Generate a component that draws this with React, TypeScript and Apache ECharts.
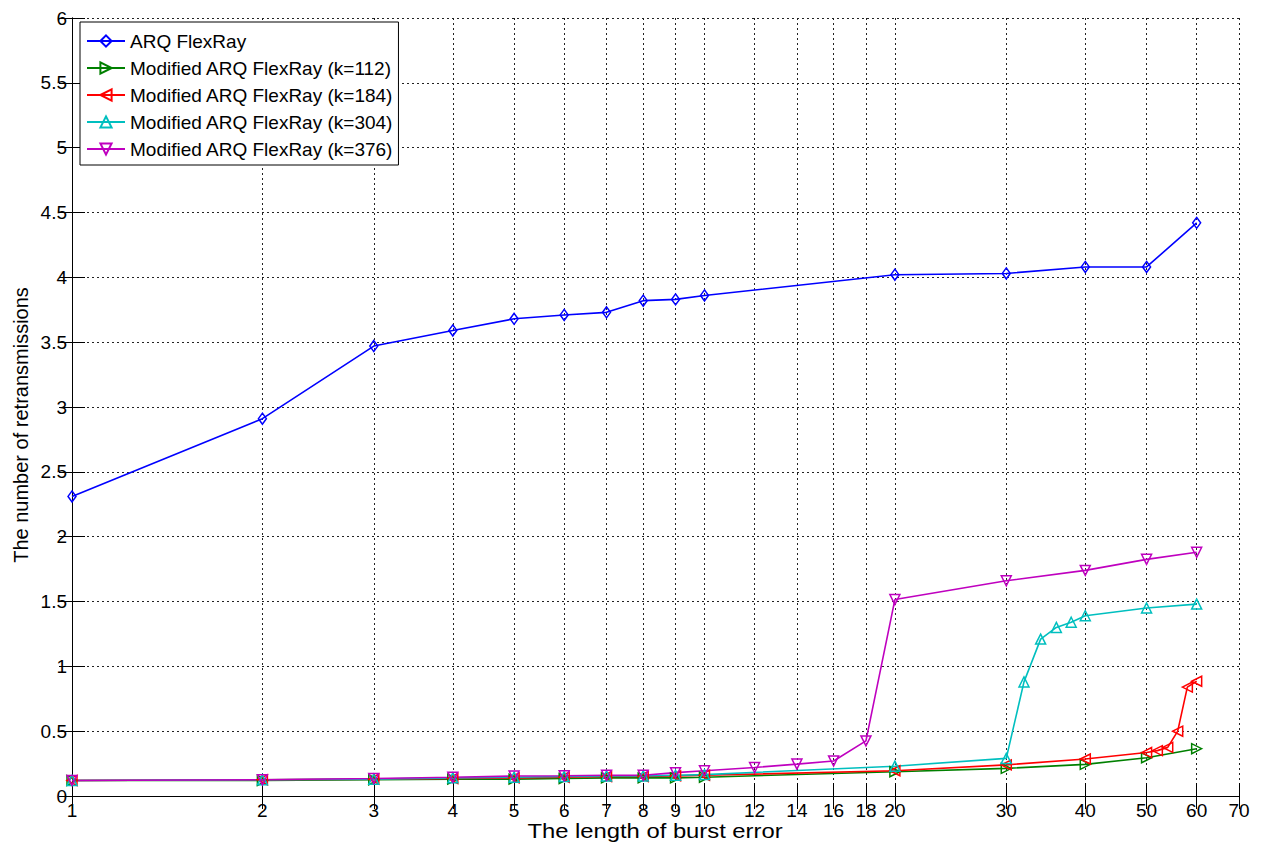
import React, { useEffect, useRef } from "react";
import * as echarts from "echarts";

const xTickValues = [1, 2, 3, 4, 5, 6, 7, 8, 9, 10, 12, 14, 16, 18, 20, 30, 40, 50, 60, 70];

const arqX = [1, 2, 3, 4, 5, 6, 7, 8, 9, 10, 20, 30, 40, 50, 60];
const arqY = [2.31, 2.91, 3.47, 3.59, 3.68, 3.71, 3.73, 3.82, 3.83, 3.86, 4.02, 4.03, 4.08, 4.08, 4.42];

const k112X = [1, 2, 3, 4, 5, 6, 7, 8, 9, 10, 20, 30, 40, 50, 60];
const k112Y = [0.12, 0.12, 0.125, 0.13, 0.13, 0.135, 0.14, 0.14, 0.14, 0.145, 0.187, 0.213, 0.244, 0.295, 0.365];

const k184X = [1, 2, 3, 4, 5, 6, 7, 8, 9, 10, 20, 30, 40, 50, 52, 54, 56, 58, 60];
const k184Y = [0.12, 0.125, 0.13, 0.135, 0.14, 0.145, 0.15, 0.15, 0.155, 0.16, 0.195, 0.24, 0.285, 0.335, 0.35, 0.375, 0.5, 0.84, 0.885];

const k304X = [1, 2, 3, 4, 5, 6, 7, 8, 9, 10, 20, 30, 32, 34, 36, 38, 40, 50, 60];
const k304Y = [0.12, 0.125, 0.13, 0.14, 0.145, 0.15, 0.155, 0.155, 0.16, 0.165, 0.23, 0.29, 0.88, 1.21, 1.3, 1.34, 1.39, 1.45, 1.48];

const k376X = [1, 2, 3, 4, 5, 6, 7, 8, 9, 10, 12, 14, 16, 18, 20, 30, 40, 50, 60];
const k376Y = [0.12, 0.125, 0.135, 0.145, 0.154, 0.156, 0.16, 0.16, 0.18, 0.195, 0.22, 0.246, 0.27, 0.425, 1.515, 1.66, 1.74, 1.825, 1.88];

const seriesNames = [
  "ARQ FlexRay",
  "Modified ARQ FlexRay (k=112)",
  "Modified ARQ FlexRay (k=184)",
  "Modified ARQ FlexRay (k=304)",
  "Modified ARQ FlexRay (k=376)",
];

const FONT = "Liberation Sans, Arial, sans-serif";

export default function App() {
  const ref = useRef<HTMLDivElement>(null);
  useEffect(() => {
    document.body.style.margin = "0";
    const chart = echarts.init(ref.current!, null, { renderer: "svg" });
    const toData = (xs: number[], ys: number[]) => xs.map((x, i) => [Math.log10(x), ys[i]]);
    const logTicks = xTickValues.map((v) => Math.log10(v));
    const xMax = Math.log10(70);
    const gridLine = { show: true, lineStyle: { color: "#222", type: [2, 3], width: 1 } };
    const tick = { show: true, inside: true, length: 13, lineStyle: { color: "#000" } };

    const mk = (name: string, xs: number[], ys: number[], color: string, symbol: string, rot: number, size: number | number[]) => ({
      name,
      type: "line",
      data: toData(xs, ys),
      symbol,
      symbolSize: size,
      symbolRotate: rot,
      color,
      lineStyle: { color, width: 1.6 },
      itemStyle: { color: "rgba(255,255,255,0)", borderColor: color, borderWidth: 1.5 },
      emphasis: { disabled: true },
      z: 3,
    });

    chart.setOption({
      animation: false,
      backgroundColor: "#fff",
      grid: { left: 72, right: 24, top: 18, bottom: 50, show: false },
      legend: {
        orient: "vertical",
        left: 80,
        top: 22,
        padding: [9, 5, 6, 6],
        itemWidth: 38,
        itemHeight: 14,
        itemGap: 7,
        backgroundColor: "#fff",
        borderColor: "#000",
        borderWidth: 1,
        textStyle: { fontFamily: FONT, fontSize: 19, lineHeight: 20, color: "#000" },
        data: seriesNames,
      },
      xAxis: [
        {
          type: "value",
          min: 0,
          max: xMax,
          position: "bottom",
          axisLine: { show: true, lineStyle: { color: "#000", width: 1 } },
          axisTick: { ...tick, customValues: logTicks },
          axisLabel: {
            customValues: logTicks,
            formatter: (v: number) => String(Math.round(Math.pow(10, v))),
            fontFamily: FONT,
            fontSize: 19,
            color: "#000",
            margin: 5,
          },
          splitLine: gridLine,
        },
        {
          type: "value",
          min: 0,
          max: xMax,
          position: "top",
          axisLine: { show: true, lineStyle: { color: "#000", width: 1 } },
          axisTick: { ...tick, customValues: logTicks },
          axisLabel: { show: false },
          splitLine: { show: false },
        },
      ],
      yAxis: [
        {
          type: "value",
          min: 0,
          max: 6,
          interval: 0.5,
          position: "left",
          axisLine: { show: true, lineStyle: { color: "#000", width: 1 } },
          axisTick: tick,
          axisLabel: { fontFamily: FONT, fontSize: 19, color: "#000", margin: 5 },
          splitLine: gridLine,
        },
        {
          type: "value",
          min: 0,
          max: 6,
          interval: 0.5,
          position: "right",
          axisLine: { show: true, lineStyle: { color: "#000", width: 1 } },
          axisTick: tick,
          axisLabel: { show: false },
          splitLine: { show: false },
        },
      ],
      graphic: [
        {
          type: "text",
          x: 655,
          y: 831,
          scaleX: 1.19,
          style: { text: "The length of burst error", fontFamily: FONT, fontSize: 20, fill: "#000", textAlign: "center", textVerticalAlign: "middle" },
        },
        {
          type: "text",
          x: 21,
          y: 425,
          rotation: Math.PI / 2,
          style: { text: "The number of retransmissions", fontFamily: FONT, fontSize: 20, fill: "#000", textAlign: "center", textVerticalAlign: "middle" },
        },
      ],
      series: [
        mk(seriesNames[0], arqX, arqY, "#0000ff", "diamond", 0, [8, 11]),
        mk(seriesNames[1], k112X, k112Y, "#008000", "triangle", -90, 10),
        mk(seriesNames[2], k184X, k184Y, "#ff0000", "triangle", 90, 10),
        mk(seriesNames[3], k304X, k304Y, "#00bfbf", "triangle", 0, 10),
        mk(seriesNames[4], k376X, k376Y, "#bf00bf", "triangle", 180, 10),
      ],
    });
    return () => chart.dispose();
  }, []);
  return <div ref={ref} style={{ width: 1263, height: 846 }} />;
}
